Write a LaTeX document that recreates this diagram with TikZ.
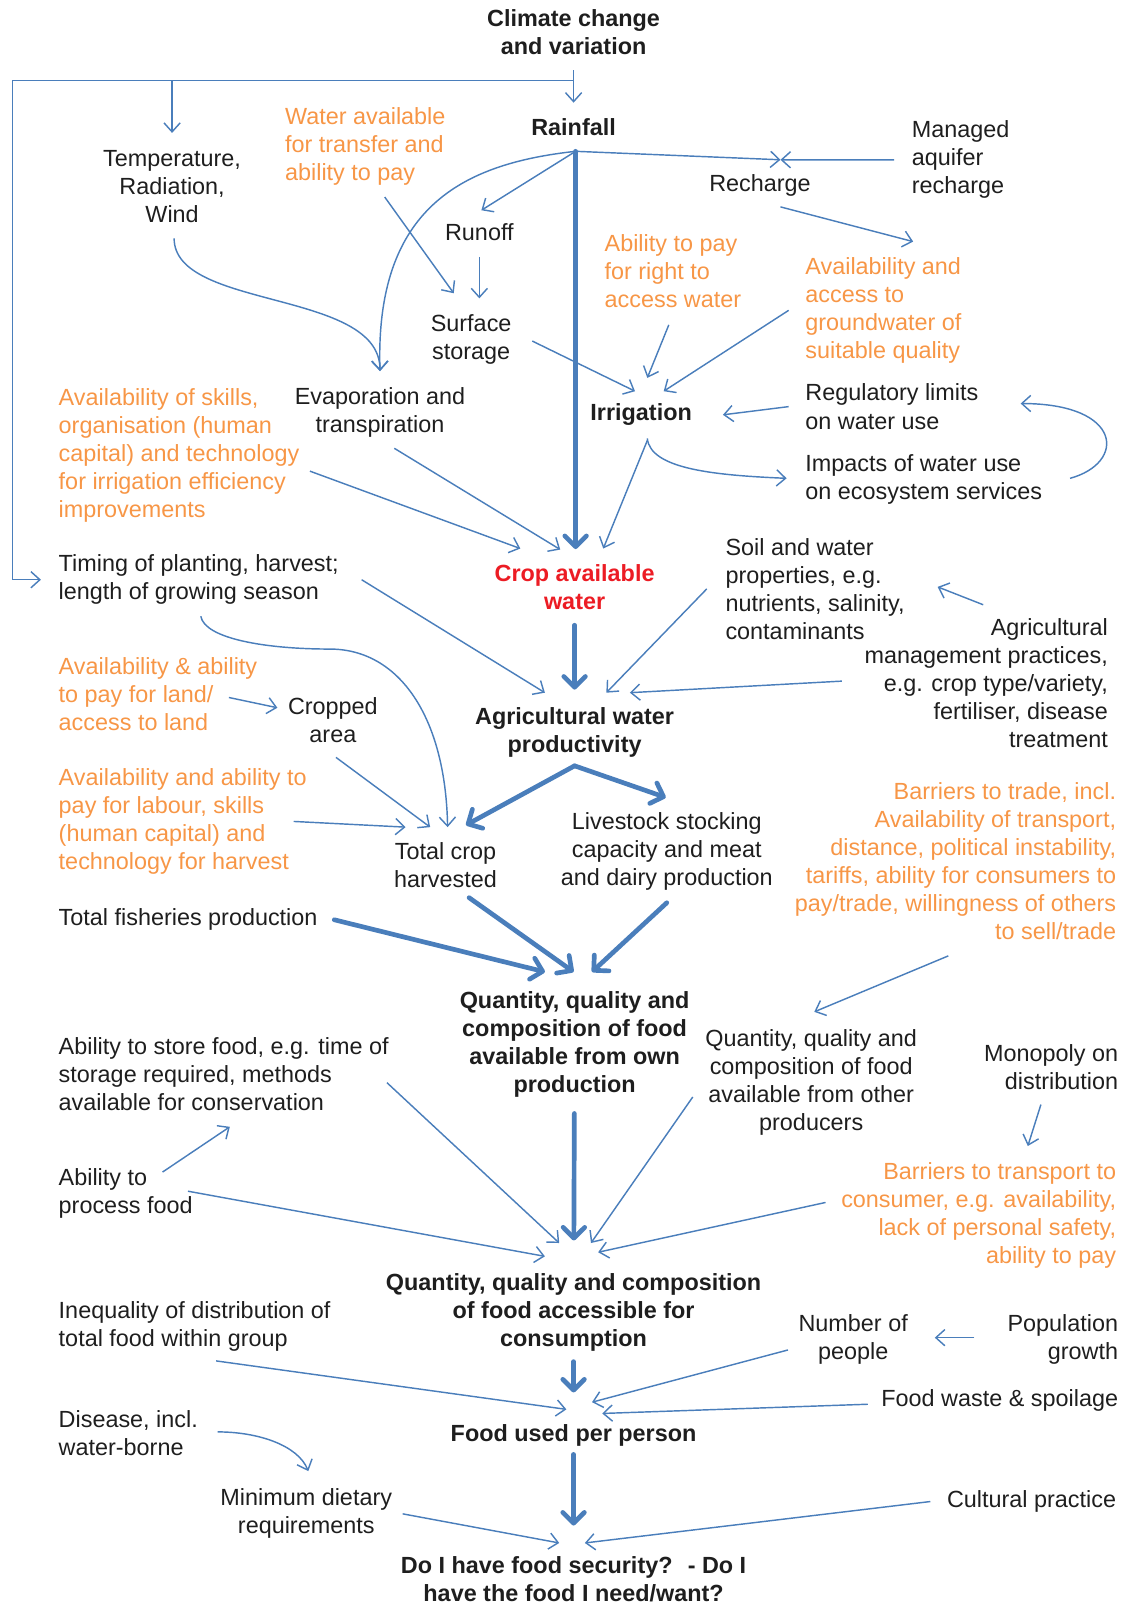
\documentclass[tikz,border=0pt]{standalone}
\usepackage{fontspec}
\setmainfont{Liberation Sans}
\usetikzlibrary{positioning,calc,arrows.meta}

\definecolor{flowblue}{HTML}{4A7EBB}
\definecolor{leverorange}{HTML}{F79646}
\definecolor{cropred}{HTML}{EC1C24}
\definecolor{inkgrey}{HTML}{1E1E1E}

\tikzset{
  factor/.style={inner sep=0pt, text=inkgrey, font=\fontsize{13}{15.6}\selectfont},
  lever/.style={factor, text=leverorange},
  stage/.style={factor, font=\fontsize{13}{15.6}\selectfont\bfseries},
  link/.style={draw=flowblue, line width=0.8pt, -{Straight Barb[length=5pt,width=9pt]}},
  spine/.style={draw=flowblue, line width=2.6pt, line cap=round, -{Straight Barb[round,length=6pt,width=12pt]}}
}

\begin{document}
\begin{tikzpicture}[x=0.02cm, y=-0.02cm]
  \useasboundingbox (0,0) rectangle (1098,1568);

  % water side
  \node[stage, align=center] (climate) at (560,31) {Climate change\\and variation};
  \node[stage] (rain) at (560,124) {Rainfall};
  \node[factor, align=center] (temp) at (168,182) {Temperature,\\Radiation,\\Wind};
  \node[lever, align=left, anchor=west] (water) at (278,143) {Water available\\for transfer and\\ability to pay};
  \node[factor, align=left, anchor=west] (mar) at (890,156) {Managed\\aquifer\\recharge};
  \node[factor] (rech) at (742,181) {Recharge};
  \node[factor] (runoff) at (468,227) {Runoff};
  \node[factor, align=center] (surf) at (460,331) {Surface\\storage};
  \node[lever, align=left, anchor=west] (payright) at (590,265) {Ability to pay\\for right to\\access water};
  \node[lever, align=left, anchor=west] (gw) at (786,303) {Availability and\\access to\\groundwater of\\suitable quality};
  \node[lever, align=left, anchor=west] (skills) at (57,445) {Availability of skills,\\organisation (human\\capital) and technology\\for irrigation efficiency\\improvements};
  \node[factor, align=center] (evap) at (371,403) {Evaporation and\\transpiration};
  \node[stage] (irr) at (626,405) {Irrigation};
  \node[factor, align=left, anchor=west] (reg) at (786,397) {Regulatory limits\\on water use};
  \node[factor, align=left, anchor=west] (imp) at (786,468) {Impacts of water use\\on ecosystem services};
  \node[stage, text=cropred, align=center] (caw) at (561,573) {Crop available\\water};

  % production side
  \node[factor, align=left, anchor=west] (timing) at (57,566) {Timing of planting, harvest;\\length of growing season};
  \node[factor, align=left, anchor=west] (soil) at (708,575) {Soil and water\\properties, e.g.\\nutrients, salinity,\\contaminants};
  \node[factor, align=right, anchor=east] (agm) at (1082,667) {Agricultural\\management practices,\\e.g. crop type/variety,\\fertiliser, disease\\treatment};
  \node[stage, align=center] (awp) at (561,715) {Agricultural water\\productivity};
  \node[lever, align=left, anchor=west] (land) at (57,678) {Availability \& ability\\to pay for land/\\access to land};
  \node[factor, align=center] (crop) at (325,703) {Cropped\\area};
  \node[lever, align=left, anchor=west] (labour) at (57,802) {Availability and ability to\\pay for labour, skills\\(human capital) and\\technology for harvest};
  \node[factor, align=center] (tch) at (435,845) {Total crop\\harvested};
  \node[factor, align=center] (live) at (651,831) {Livestock stocking\\capacity and meat\\and dairy production};
  \node[lever, align=right, anchor=east] (trade) at (1090,841) {Barriers to trade, incl.\\Availability of transport,\\distance, political instability,\\tariffs, ability for consumers to\\pay/trade, willingness of others\\to sell/trade};
  \node[factor, anchor=west] (fish) at (57,898) {Total fisheries production};
  \node[stage, align=center] (own) at (561,1020) {Quantity, quality and\\composition of food\\available from own\\production};

  % food side
  \node[factor, align=center] (other) at (792,1057) {Quantity, quality and\\composition of food\\available from other\\producers};
  \node[factor, align=right, anchor=east] (mono) at (1092,1042) {Monopoly on\\distribution};
  \node[factor, align=left, anchor=west] (store) at (57,1049) {Ability to store food, e.g. time of\\storage required, methods\\available for conservation};
  \node[factor, align=left, anchor=west] (proc) at (57,1165) {Ability to\\process food};
  \node[lever, align=right, anchor=east] (barr) at (1090,1187) {Barriers to transport to\\consumer, e.g. availability,\\lack of personal safety,\\ability to pay};
  \node[stage, align=center] (acc) at (560,1281) {Quantity, quality and composition\\of food accessible for\\consumption};
  \node[factor, align=left, anchor=west] (ineq) at (57,1295) {Inequality of distribution of\\total food within group};
  \node[factor, align=center] (num) at (833,1308) {Number of\\people};
  \node[factor, align=right, anchor=east] (pop) at (1092,1308) {Population\\growth};
  \node[factor, anchor=east] (waste) at (1092,1367) {Food waste \& spoilage};
  \node[stage] (used) at (560,1401) {Food used per person};
  \node[factor, align=left, anchor=west] (dis) at (57,1399) {Disease, incl.\\water-borne};
  \node[factor, align=center] (diet) at (299,1478) {Minimum dietary\\requirements};
  \node[factor, anchor=east] (cult) at (1090,1466) {Cultural practice};
  \node[stage, align=center] (sec) at (560,1542) {Do I have food security?~ - Do I\\have the food I need/want?};

  % climate branches
  \coordinate (split) at ($(climate.south)+(0,25)$);
  \draw[link, shorten <=0.3cm, shorten >=0.3cm] (climate) -- (rain);
  \draw[link, shorten >=0.33cm] (split) -| (temp);
  \draw[link, shorten >=0.34cm] (split) -- ++(-548,0) |- (timing);

  % rainfall
  \coordinate (rainhub) at ($(rain.south)+(2,15)$);
  \coordinate (rechin) at ($(rech.north)+(20,-14)$);
  \coordinate (evapin) at ($(evap.north)+(0,-16)$);
  \draw[spine, shorten >=0.29cm] (rainhub) -- (rainhub |- caw.north);
  \draw[link] (rainhub) -- (rechin);
  \draw[link] ($(mar.west)+(-17,0)$) -- (rechin);
  \draw[link] ($(rech.south)+(20,10)$) -- ($(gw.north)+(29,-15)$);
  \draw[link] (rainhub) -- ($(runoff.north)+(2,-13)$);
  \draw[link] (rainhub) .. controls +(-110,12) and +(-5,-160) .. (evapin);
  \draw[link] ($(temp.south)+(2,15)$) .. controls +(0,70) and +(0,-80) .. (evapin);
  \draw[link] ($(water.south)+(19,11)$) -- ($(surf.north)+(-17,-20)$);
  \draw[link, shorten <=0.3cm, shorten >=0.3cm] (runoff.south) -- (runoff.south |- surf.north);

  % irrigation
  \draw[link] ($(surf.east)+(20,2)$) -- ($(irr.north)+(-6,-12)$);
  \draw[link] ($(payright.south)+(-4,16)$) -- ($(irr.north)+(6,-25)$);
  \draw[link] ($(gw.west)+(-16,0)$) -- ($(irr.north)+(22,-12)$);
  \draw[link] ($(reg.west)+(-16,0)$) -- ($(irr.east)+(30,0)$);
  \draw[link] ($(irr.south)+(6,12)$) .. controls +(3,30) and +(-70,-3) .. ($(imp.west)+(-18,-1)$);
  \draw[link] ($(imp.east)+(27,-1)$) .. controls +(55,-15) and +(100,0) .. ($(reg.east)+(41,-3)$);
  \draw[link] ($(irr.south)+(6,14)$) -- ($(caw.north)+(28,-15)$);
  \draw[link] ($(skills.east)+(10,15)$) -- ($(caw.north)+(-53,-15)$);
  \draw[link] ($(evap.south)+(14,10)$) -- ($(caw.north)+(-14,-14)$);

  % productivity
  \draw[spine, shorten <=0.3cm, shorten >=0.34cm] (caw) -- (awp);
  \draw[link] ($(timing.east)+(22,0)$) -- ($(awp.north)+(-29,-14)$);
  \draw[link] ($(soil.west)+(-18,0)$) -- ($(awp.north)+(31,-14)$);
  \draw[link] ($(agm.north)+(-3,-13)$) -- ($(soil.east)+(32,-2)$);
  \draw[link] ($(agm.west)+(-22,-2)$) -- ($(awp.north)+(54,-14)$);

  % harvest
  \draw[link] ($(timing.south)+(2,11)$) .. controls +(4,22) and +(-62,0) .. ($(timing.south)+(128,43)$)
    .. controls +(68,0) and +(-2,-107) .. ($(tch.north)+(2,-15)$);
  \draw[link] ($(land.east)+(-28,3)$) -- ($(crop.west)+(-10,-12)$);
  \draw[link] ($(crop.south)+(3,14)$) -- ($(tch.north)+(-15,-15)$);
  \draw[link] ($(labour.east)+(-13,0)$) -- ($(tch.north)+(-39,-15)$);
  \coordinate (awphub) at ($(awp.south)+(0,8)$);
  \draw[spine] (awphub) -- ($(tch.north)+(20,-17)$);
  \draw[spine] (awphub) -- ($(live.north)+(-1,-14)$);

  % own production
  \draw[spine] ($(tch.south)+(23,9)$) -- ($(own.north)+(-1,-19)$);
  \draw[spine] ($(live.south)+(0,12)$) -- ($(own.north)+(17,-19)$);
  \draw[spine] ($(fish.east)+(16,0)$) -- ($(own.north)+(-29,-19)$);
  \draw[link] ($(trade.south)+(-7,15)$) -- ($(other.north)+(3,-17)$);
  \draw[link] ($(mono.south)+(-10,14)$) -- ($(barr.north)+(48,-16)$);
  \draw[link] ($(proc.north)+(36,4)$) -- ($(store.south)+(6,15)$);

  % access
  \draw[spine, shorten <=0.3cm, shorten >=0.63cm] (own) -- (acc);
  \draw[link] ($(store.east)+(-2,8)$) -- ($(acc.north)+(-14,-29)$);
  \draw[link] ($(other.west)+(-12,14)$) -- ($(acc.north)+(17,-29)$);
  \draw[link] ($(proc.east)+(-5,-2)$) -- ($(acc.north)+(-28,-16)$);
  \draw[link] ($(barr.west)+(-15,-13)$) -- ($(acc.north)+(24,-20)$);

  % use
  \draw[spine, shorten <=0.2cm, shorten >=0.61cm] (acc) -- (used);
  \draw[link] ($(ineq.south)+(21,9)$) -- ($(used.north)+(-7,-14)$);
  \draw[link] ($(num.west)+(-10,10)$) -- ($(used.north)+(18,-21)$);
  \draw[link] ($(pop.west)+(-32,-2)$) -- ($(num.east)+(26,-2)$);
  \draw[link] ($(waste.west)+(-13,4)$) -- ($(used.north)+(28,-10)$);

  % security
  \draw[spine, shorten <=0.16cm, shorten >=0.6cm] (used) -- (sec);
  \draw[link] ($(dis.east)+(19,-1)$) .. controls +(40,0) and +(-10,-25) .. ($(diet.north)+(2,-17)$);
  \draw[link] ($(diet.east)+(10,0)$) -- ($(sec.north)+(-14,-13)$);
  \draw[link] ($(cult.west)+(-16,0)$) -- ($(sec.north)+(11,-13)$);
\end{tikzpicture}
\end{document}
